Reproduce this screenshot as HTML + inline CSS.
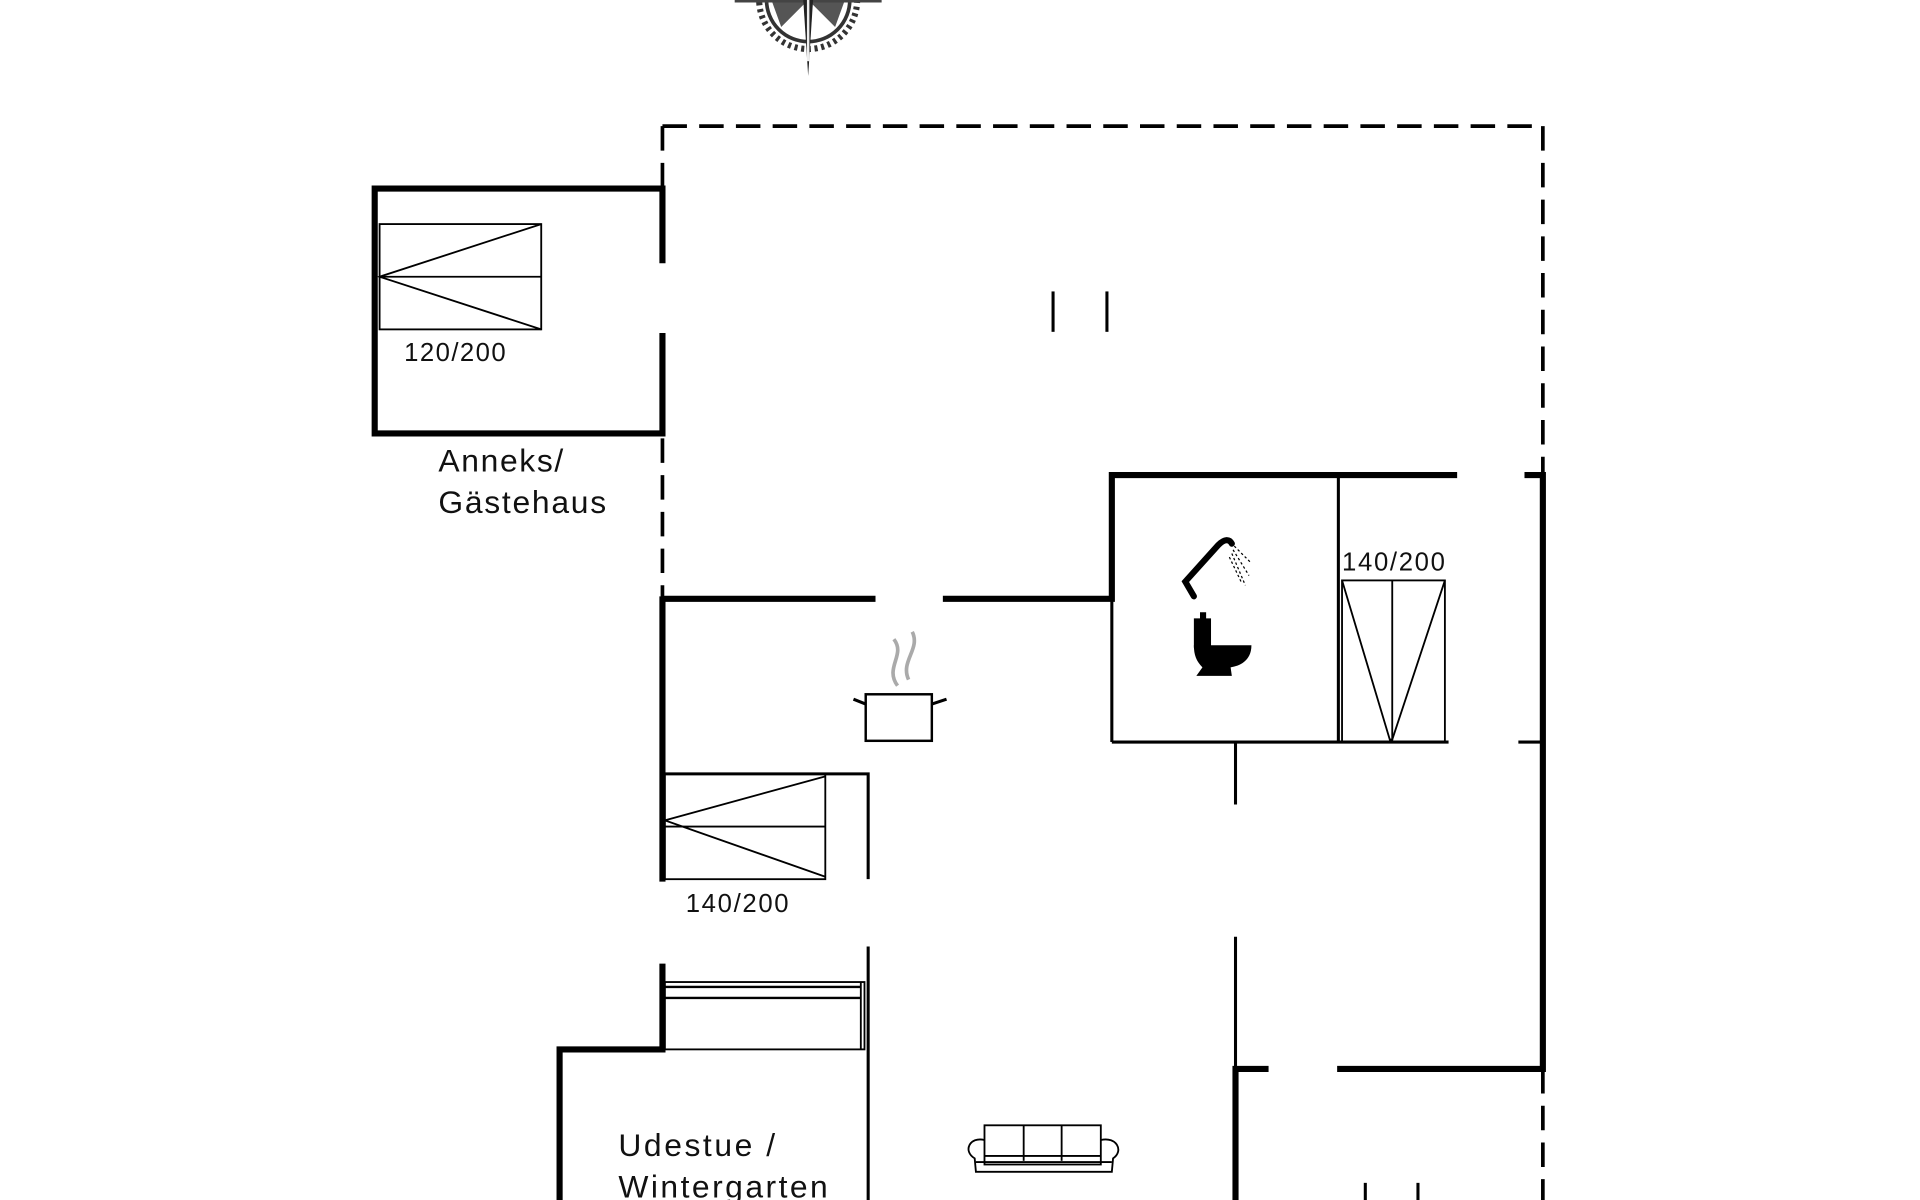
<!DOCTYPE html>
<html><head><meta charset="utf-8"><style>
html,body{margin:0;padding:0;background:#fff;width:1920px;height:1200px;overflow:hidden}
svg{display:block}
text{font-family:"Liberation Sans",sans-serif;fill:#111}
</style></head><body>
<svg width="1920" height="1200" viewBox="0 0 1568 980" xmlns="http://www.w3.org/2000/svg">
<g fill="none" stroke="#000" stroke-linecap="butt">
<g stroke-width="3" stroke-dasharray="20,10">
<line x1="541" y1="103" x2="1260" y2="103"/>
<line x1="541" y1="103" x2="541" y2="154"/>
<line x1="541" y1="358" x2="541" y2="488"/>
<line x1="1260" y1="103" x2="1260" y2="388"/>
<line x1="1260" y1="873" x2="1260" y2="980"/>
</g>
<g stroke-width="5">
<polyline points="541,215 541,154 306,154 306,354 541,354 541,272"/>
<line x1="541" y1="489" x2="715" y2="489"/>
<polyline points="770,489 908,489 908,388 1190,388"/>
<polyline points="1245,388 1260,388 1260,873 1092,873"/>
<polyline points="1036,873 1009,873 1009,980"/>
<line x1="541" y1="487" x2="541" y2="720"/>
<polyline points="541,787 541,857 457,857 457,980"/>
</g>
<g stroke-width="2.5">
<line x1="908" y1="489" x2="908" y2="606"/>
<line x1="908" y1="606" x2="1183" y2="606"/>
<line x1="1093" y1="390" x2="1093" y2="606"/>
<line x1="1240" y1="606" x2="1258" y2="606"/>
<line x1="1009" y1="606" x2="1009" y2="657"/>
<line x1="1009" y1="765" x2="1009" y2="873"/>
<polyline points="543,632 709,632 709,718"/>
<line x1="709" y1="773" x2="709" y2="980"/>
<line x1="860" y1="238" x2="860" y2="271"/>
<line x1="904" y1="238" x2="904" y2="271"/>
<line x1="1115" y1="966" x2="1115" y2="980"/>
<line x1="1158" y1="966" x2="1158" y2="980"/>
</g>
<g stroke-width="1.5">
<rect x="310" y="183" width="132" height="86"/>
<line x1="310" y1="226" x2="442" y2="226"/>
<polyline points="442,183 310,226 442,269"/>
<rect x="543" y="632" width="131" height="86"/>
<line x1="543" y1="675" x2="674" y2="675"/>
<polyline points="674,634 543,670 674,716"/>
<rect x="1096" y="474" width="84" height="132"/>
<line x1="1137" y1="474" x2="1137" y2="606"/>
<polyline points="1096,474 1135,604 1137,604 1180,474"/>
<rect x="543" y="802" width="163" height="55"/>
<line x1="543" y1="806" x2="703" y2="806" stroke-width="2"/>
<line x1="543" y1="815" x2="703" y2="815" stroke-width="2"/>
<line x1="703" y1="802" x2="703" y2="857"/>
<rect x="707" y="567" width="54" height="38" stroke-width="2"/>
<path d="M707,575 L697,571 M761,575 L773,571" stroke-width="2.5"/>
<path d="M733,560 C722,545 740,535 730,522 M742,555 C735,540 752,530 745,516" stroke="#aaa" stroke-width="3"/>
<rect x="804" y="919" width="95" height="32"/>
<line x1="804" y1="944" x2="899" y2="944"/>
<line x1="836" y1="919" x2="836" y2="948"/>
<line x1="867" y1="919" x2="867" y2="948"/>
<path d="M804,931 C792,928 786,940 796,946 L797,957 L908,957 L909,946 C918,940 912,928 899,931"/>
<line x1="797" y1="949" x2="908" y2="949"/>
</g>
<path d="M975,487 L968,475 L995,445 C1000,440 1004,440 1006,444" stroke-width="5" stroke-linecap="round"/>
<g stroke-width="1" stroke-dasharray="2,2"><line x1="1008" y1="446" x2="1022" y2="460"/><line x1="1007" y1="449" x2="1020" y2="470"/><line x1="1006" y1="452" x2="1017" y2="478"/><line x1="1004" y1="455" x2="1014" y2="476"/></g>
</g>
<g fill="#000">
<rect x="975" y="505" width="14" height="24"/>
<rect x="980" y="500" width="5" height="6"/>
<path d="M975,527 L1022,527 C1022,540 1012,544 1005,545 L1006,552 L977,552 L982,545 C977,540 975,535 975,527Z"/>
</g>
<g transform="translate(660,0)">
<circle cx="0" cy="0" r="40" fill="none" stroke="#333" stroke-width="5" stroke-dasharray="2.5,3"/>
<circle cx="0" cy="0" r="34" fill="none" stroke="#333" stroke-width="3"/>
<path d="M-30,0 L0,0 L-22,22Z M30,0 L0,0 L22,22Z" fill="#555"/>
<path d="M-60,-2 L60,-2 L60,2 L-60,2Z" fill="#444"/>
<path d="M0,0 L-4,0 L0,62 L4,0Z" fill="#222"/>
<line x1="0" y1="0" x2="0" y2="50" stroke="#eee" stroke-width="2"/>
</g>
<text x="330" y="295" font-size="21" textLength="83">120/200</text>
<text x="1096" y="466" font-size="21" textLength="84">140/200</text>
<text x="560" y="745" font-size="21" textLength="84">140/200</text>
<text x="358" y="385" font-size="26" textLength="102">Anneks/</text>
<text x="358" y="419" font-size="26" textLength="137">Gästehaus</text>
<text x="505" y="944" font-size="26" textLength="128">Udestue /</text>
<text x="505" y="978" font-size="26" textLength="171">Wintergarten</text>
</svg>
</body></html>
